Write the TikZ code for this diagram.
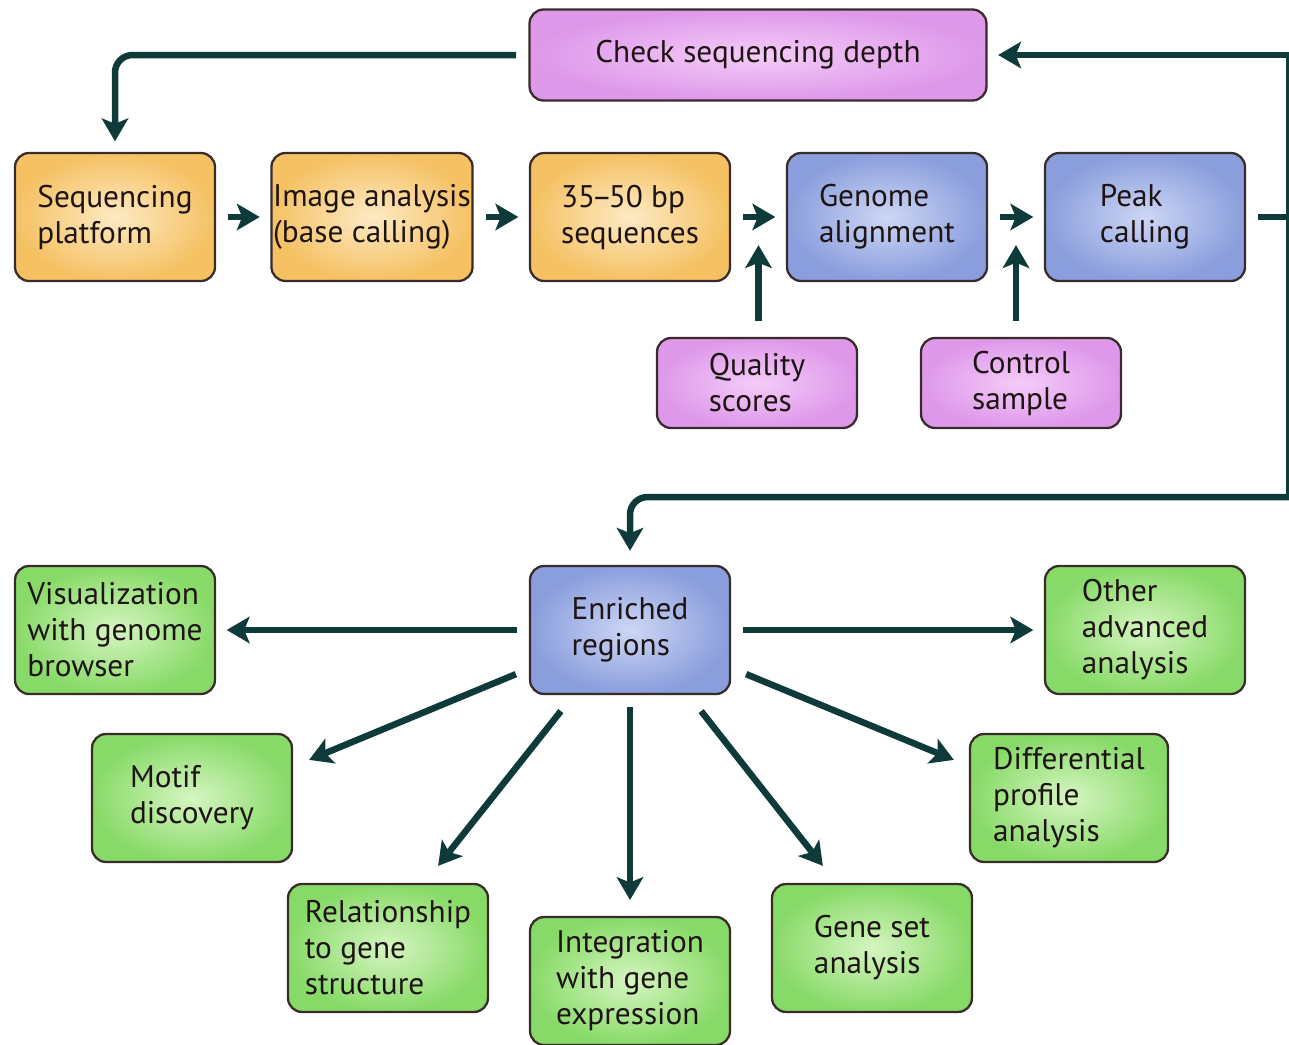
\documentclass[tikz,border=0pt]{standalone}
\usepackage{fontspec}
\setmainfont{PT Sans}
\usetikzlibrary{arrows.meta,calc}

\definecolor{flowcol}{HTML}{0E3B3A}
\definecolor{edgecol}{HTML}{3A2B2B}
\definecolor{textcol}{HTML}{1F1414}
\definecolor{orin}{HTML}{FDEAC4}
\definecolor{orout}{HTML}{F5C163}
\definecolor{bluein}{HTML}{CDD6F4}
\definecolor{blueout}{HTML}{8A9EDD}
\definecolor{pinkin}{HTML}{F4CCF8}
\definecolor{pinkout}{HTML}{DE98EA}
\definecolor{greenin}{HTML}{D6F5C2}
\definecolor{greenout}{HTML}{88DA68}

\begin{document}
\begin{tikzpicture}[x=0.02cm, y=-0.02cm,
    box/.style={draw=edgecol, line width=1.3pt, rounded corners=8pt,
      minimum width=4cm, minimum height=2.56cm, inner xsep=1pt,
      align=left, text=textcol, font=\fontsize{17.8}{20.5}\selectfont},
    orangebox/.style={box, inner color=orin, outer color=orout},
    bluebox/.style={box, inner color=bluein, outer color=blueout},
    pinkbox/.style={box, inner color=pinkin, outer color=pinkout},
    greenbox/.style={box, inner color=greenin, outer color=greenout},
    flow/.style={draw=flowcol, line width=3.7pt,
      -{Stealth[length=13pt, width=15pt, inset=3pt]},
      shorten <=7pt, shorten >=6pt}]
  \useasboundingbox (0,0) rectangle (1289,1045);

  % Pipeline row
  \node[pinkbox, minimum width=9.14cm, minimum height=1.82cm] (check) at (758,55) {Check sequencing depth};
  \node[orangebox] (seq) at (115,217) {Sequencing\\platform};
  \node[orangebox] (img) at (372,217) {Image analysis\\(base calling)};
  \node[orangebox] (seqs) at (630,217) {35\kern-2pt--\kern-2pt50 bp\\sequences};
  \node[bluebox] (gen) at (887,217) {Genome\\alignment};
  \node[bluebox] (peak) at (1145,217) {Peak\\calling};
  \node[pinkbox, minimum height=1.8cm] (qual) at (757,383) {Quality\\scores};
  \node[pinkbox, minimum height=1.8cm] (ctrl) at (1021,383) {Control\\sample};

  % Downstream analysis
  \node[bluebox] (enr) at (630,630) {Enriched\\regions};
  \node[greenbox] (vis) at (115,630) {Visualization\\with genome\\browser};
  \node[greenbox] (other) at (1145,630) {Other\\advanced\\analysis};
  \node[greenbox] (motif) at (192,798) {Motif\\discovery};
  \node[greenbox, minimum width=3.96cm] (diff) at (1069,798) {Differential\\profile\\analysis};
  \node[greenbox] (rel) at (388,948) {Relationship\\to gene\\structure};
  \node[greenbox] (integ) at (630,981) {Integration\\with gene\\expression};
  \node[greenbox] (gene) at (872,948) {Gene set\\analysis};

  \coordinate (a1) at ($(seqs.east)!0.5!(gen.west)$);
  \coordinate (a2) at ($(gen.east)!0.5!(peak.west)$);
  \coordinate (rtop) at (1289,55);
  \coordinate (rbot) at (1289,497);

  % Row arrows
  \draw[flow] (seq) -- (img);
  \draw[flow] (img) -- (seqs);
  \draw[flow] (seqs) -- (gen);
  \draw[flow] (gen) -- (peak);
  \draw[flow, shorten <=9pt, shorten >=16pt] (a1 |- qual.north) -- (a1);
  \draw[flow, shorten <=9pt, shorten >=16pt] (a2 |- ctrl.north) -- (a2);

  % Feedback loops
  \draw[flow, -, shorten >=0pt] (peak) -- (peak -| rtop);
  \draw[flow, shorten <=0pt] (rbot) -- (rtop) -- (check);
  \draw[flow, rounded corners=10pt] (check) -- (check -| seq) -- (seq);
  \draw[flow, rounded corners=10pt, shorten <=0pt, shorten >=8pt] (rbot) -- (rbot -| enr) -- (enr);

  % Fan out from enriched regions
  \draw[flow] (enr) -- (vis);
  \draw[flow] (enr) -- (other);
  \draw[flow, shorten >=9pt] (enr) -- (integ);
  \draw[flow, shorten <=0pt, shorten >=0pt] ([shift={(-13,-21)}]enr.south west) -- ([shift={(16,27)}]motif.north east);
  \draw[flow, shorten <=0pt, shorten >=0pt] ([shift={(32,16)}]enr.south west) -- ([shift={(-51,-17)}]rel.north east);
  \draw[flow, shorten <=0pt, shorten >=0pt] ([shift={(-30,16)}]enr.south east) -- ([shift={(52,-17)}]gene.north west);
  \draw[flow, shorten <=0pt, shorten >=0pt] ([shift={(15,-21)}]enr.south east) -- ([shift={(-15,27)}]diff.north west);
\end{tikzpicture}
\end{document}
